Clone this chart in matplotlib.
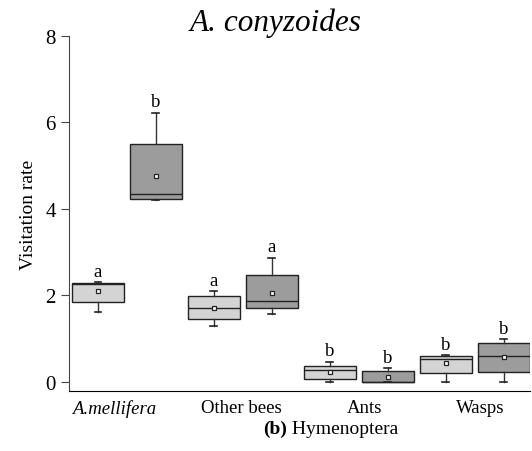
import matplotlib
matplotlib.use("Agg")
import matplotlib.pyplot as plt

# box statistics (light = first, dark = second in each group)
positions = [1, 2, 3, 4, 5, 6, 7, 8]
q1 = [1.84, 4.23, 1.45, 1.71, 0.06, 0.00, 0.21, 0.22]
med = [2.27, 4.35, 1.70, 1.87, 0.28, 0.00, 0.53, 0.59]
q3 = [2.28, 5.51, 1.98, 2.48, 0.38, 0.26, 0.59, 0.89]
whislo = [1.61, 4.21, 1.29, 1.56, 0.00, 0.00, 0.00, 0.00]
whishi = [2.30, 6.23, 2.10, 2.87, 0.47, 0.32, 0.62, 0.99]
means = [2.11, 4.77, 1.72, 2.06, 0.24, 0.11, 0.43, 0.57]
letters = ["a", "b", "a", "a", "b", "b", "b", "b"]
fills = ["#d4d4d4", "#9c9c9c"] * 4

groups = ["A.mellifera", "Other bees", "Ants", "Wasps"]
group_pos = [1.28, 3.48, 5.59, 7.59]

plt.rcParams["font.family"] = ["Liberation Serif", "DejaVu Serif"]

fig = plt.figure(figsize=(5.32, 4.52), dpi=100)
ax = fig.add_axes([0.1297, 0.1327, 0.8665, 0.7854])

stats = []
for i in range(len(positions)):
    stats.append(dict(med=med[i], q1=q1[i], q3=q3[i], whislo=whislo[i],
                      whishi=whishi[i], mean=means[i], fliers=[]))

bp = ax.bxp(stats, positions=positions, widths=0.9, patch_artist=True,
            showmeans=True, capwidths=0.12,
            boxprops=dict(edgecolor="#222222", linewidth=1.0),
            medianprops=dict(color="#222222", linewidth=1.0),
            whiskerprops=dict(color="#333333", linewidth=1.0),
            capprops=dict(color="#222222", linewidth=1.2),
            meanprops=dict(marker="s", markersize=3.5, markerfacecolor="white",
                           markeredgecolor="#222222", markeredgewidth=0.9))
for patch, c in zip(bp["boxes"], fills):
    patch.set_facecolor(c)

for p, top, lab in zip(positions, whishi, letters):
    ax.text(p, top + 0.15, lab, ha="center", va="baseline", fontsize=13.5)

ax.set_xlim(0.5, 8.45)
ax.set_ylim(-0.21, 8)
ax.set_yticks([0, 2, 4, 6, 8])
ax.tick_params(axis="y", labelsize=15, length=6, width=0.8, color="#444444")
ax.set_xticks(group_pos)
ax.set_xticklabels(groups, fontsize=13.5)
ax.get_xticklabels()[0].set_style("italic")
ax.tick_params(axis="x", length=0, pad=6)
ax.spines["top"].set_visible(False)
ax.spines["right"].set_visible(False)
ax.spines["left"].set_bounds(-0.21, 8)
ax.spines["left"].set_color("#444444")
ax.set_ylabel("Visitation rate", fontsize=14, labelpad=6)

fig.text(0.519, 0.931, "A. conyzoides", ha="center", va="baseline",
         fontsize=22.5, style="italic")

# panel caption: bold "(b)" followed by plain text
lab_b = fig.text(263 / 532, 1 - 434 / 452, "(b)", ha="left", va="baseline",
                 fontsize=14, weight="bold")
fig.canvas.draw()
bb = lab_b.get_window_extent().transformed(fig.transFigure.inverted())
fig.text(bb.x1, 1 - 434 / 452, " Hymenoptera", ha="left", va="baseline",
         fontsize=14)

fig.savefig("out.png", dpi=100)
